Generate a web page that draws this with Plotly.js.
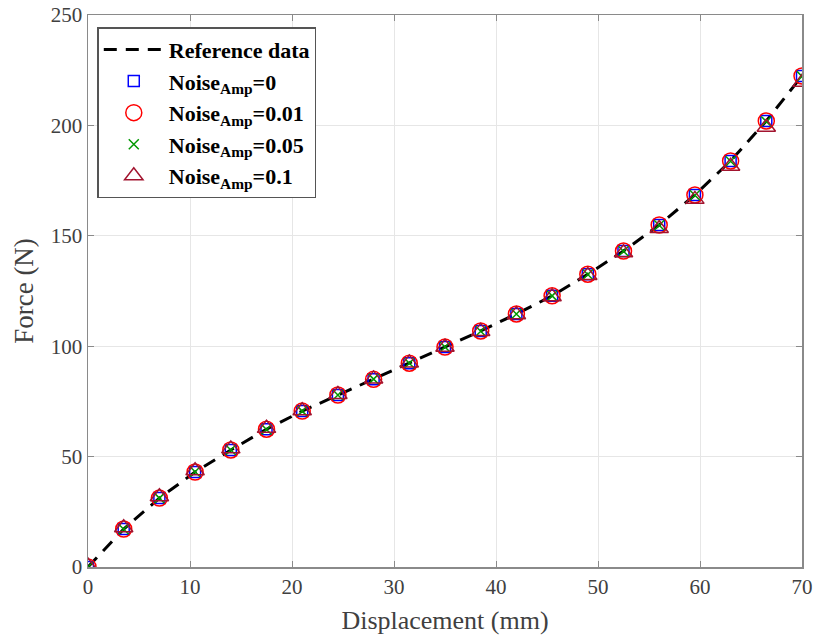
<!DOCTYPE html>
<html>
<head>
<meta charset="utf-8">
<script src="https://cdn.plot.ly/plotly-3.0.1.min.js"></script>
<style>html,body{margin:0;padding:0;background:#fff;}#chart{width:818px;height:641px;}</style>
</head>
<body>
<div id="chart"></div>
<script>
const displacement = [0, 3.5, 7, 10.5, 14, 17.5, 21, 24.5, 28, 31.5, 35, 38.5, 42, 45.5, 49, 52.5, 56, 59.5, 63, 66.5, 70];
const forceRef   = [0, 17.2, 31.2, 43, 53, 62.4, 70.6, 77.9, 85, 92.3, 99.6, 106.9, 114.6, 122.8, 132.6, 143.1, 154.9, 168.5, 183.9, 202, 222.4];
const noise0     = [0, 17.2, 31.2, 43, 53, 62.4, 70.6, 77.9, 85, 92.3, 99.6, 106.9, 114.6, 122.8, 132.6, 143.1, 154.9, 168.5, 183.9, 202, 222.4];
const noise001   = [0, 17.2, 31.2, 43, 53, 62.4, 70.6, 77.9, 85, 92.3, 99.6, 106.9, 114.6, 122.8, 132.6, 143.1, 154.9, 168.5, 183.9, 202, 222.4];
const noise005   = [0, 17.1, 31.2, 43.1, 53, 62.3, 70.6, 77.9, 85.1, 92.3, 99.6, 106.8, 114.6, 122.8, 132.5, 143, 154.8, 168.4, 183.8, 201.8, 222.2];
const noise01    = [0.5, 17.8, 31.8, 43.6, 53.5, 62.8, 70.8, 78.1, 85.2, 92.4, 99.5, 106.7, 114.3, 122.4, 132, 142.3, 153.3, 166.5, 181.5, 199.2, 219.5];
const legendNames = ['<b>Reference data</b>', '<b>Noise<sub>Amp</sub>=0</b>', '<b>Noise<sub>Amp</sub>=0.01</b>', '<b>Noise<sub>Amp</sub>=0.05</b>', '<b>Noise<sub>Amp</sub>=0.1</b>'];

const serif = 'Liberation Serif, Times New Roman, serif';
const traces = [
  {x: displacement, y: forceRef, mode: 'lines', name: legendNames[0], legendgroup: 'a', line: {color: '#000', width: 3, dash: '13px,9px'}},
  {x: displacement, y: noise0, mode: 'markers', name: legendNames[1], legendgroup: 'b', marker: {symbol: 'square-open', size: 11, color: '#0000ff', line: {width: 1.5}}},
  {x: displacement, y: noise001, mode: 'markers', name: legendNames[2], legendgroup: 'c', marker: {symbol: 'circle-open', size: 16, color: '#ff0000', line: {width: 1.5}}},
  {x: displacement, y: noise005, mode: 'markers', name: legendNames[3], legendgroup: 'd', marker: {symbol: 'x-thin-open', size: 10, color: '#009900', line: {width: 1.5}}},
  {x: displacement, y: noise01, mode: 'markers', name: legendNames[4], legendgroup: 'e', marker: {symbol: 'triangle-up-open', size: 16, color: '#a2142f', line: {width: 1.5}}}
];

const axisCommon = {
  showline: true, mirror: 'ticks', linecolor: '#8a8a8a', linewidth: 1.5,
  ticks: 'inside', ticklen: 6, tickcolor: '#8a8a8a', tickwidth: 1,
  showgrid: true, gridcolor: '#e6e6e6', gridwidth: 1, zeroline: false,
  tickfont: {family: serif, size: 21, color: '#404040'}
};

const layout = {
  width: 818, height: 641,
  margin: {l: 88, r: 16, t: 15, b: 74},
  paper_bgcolor: '#fff', plot_bgcolor: '#fff',
  xaxis: Object.assign({}, axisCommon, {range: [0, 70], tickvals: [0, 10, 20, 30, 40, 50, 60, 70],
    title: {text: 'Displacement (mm)', font: {family: serif, size: 26, color: '#404040'}, standoff: 13}}),
  yaxis: Object.assign({}, axisCommon, {range: [0, 250], tickvals: [0, 50, 100, 150, 200, 250],
    title: {text: 'Force (N)', font: {family: serif, size: 27, color: '#404040'}, standoff: 9}}),
  showlegend: true,
  legend: {x: 0.013, y: 0.978, xanchor: 'left', yanchor: 'top', bgcolor: '#fff', bordercolor: '#555', borderwidth: 1.5,
    font: {family: serif, size: 22, color: '#000'}, tracegroupgap: 8, itemwidth: 60, traceorder: 'normal'}
};

Plotly.newPlot('chart', traces, layout, {displayModeBar: false, staticPlot: true});
</script>
</body>
</html>
